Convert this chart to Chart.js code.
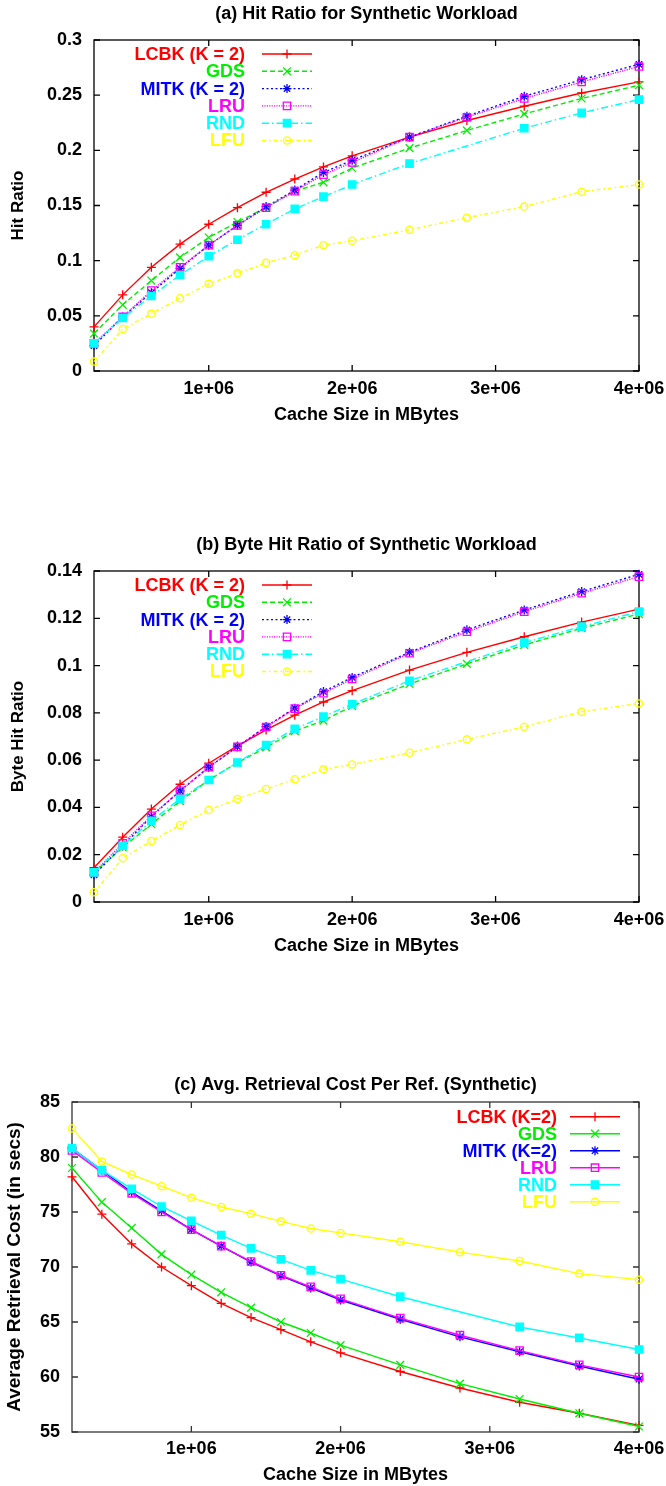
<!DOCTYPE html>
<html><head><meta charset="utf-8">
<script src="https://cdn.jsdelivr.net/npm/chart.js@4/dist/chart.umd.min.js"></script>
<style>
html,body{margin:0;padding:0;background:#fff;}
body{width:666px;height:1486px;position:relative;overflow:hidden;}
canvas{position:absolute;left:0;}
</style></head><body>
<canvas id="cA" width="666" height="440" style="top:0px;width:666px;height:440px"></canvas>
<canvas id="cB" width="666" height="440" style="top:531px;width:666px;height:440px"></canvas>
<canvas id="cC" width="666" height="415" style="top:1071px;width:666px;height:415px"></canvas>
<script>
// ---------- data ----------
const cacheSizes = [200000,400000,600000,800000,1000000,1200000,1400000,1600000,1800000,2000000,2400000,2800000,3200000,3600000,4000000];
const xTickValues = [1000000,2000000,3000000,4000000];
const xTickLabels = ['1e+06','2e+06','3e+06','4e+06'];

const policyLabelsAB = ['LCBK (K = 2)','GDS','MITK (K = 2)','LRU','RND','LFU'];
const policyLabelsC  = ['LCBK (K=2)','GDS','MITK (K=2)','LRU','RND','LFU'];

// (a) hit ratio
const hitLCBK = [0.040,0.069,0.094,0.115,0.133,0.148,0.162,0.174,0.185,0.195,0.212,0.227,0.240,0.252,0.262];
const hitGDS  = [0.034,0.060,0.082,0.103,0.121,0.135,0.148,0.163,0.171,0.184,0.202,0.218,0.233,0.247,0.259];
const hitMITK = [0.023,0.049,0.071,0.093,0.114,0.132,0.149,0.164,0.180,0.191,0.212,0.231,0.249,0.264,0.278];
const hitLRU  = [0.025,0.049,0.073,0.094,0.114,0.132,0.148,0.163,0.178,0.189,0.212,0.230,0.247,0.262,0.276];
const hitRND  = [0.025,0.048,0.068,0.087,0.104,0.119,0.133,0.147,0.158,0.169,0.188,null,0.220,0.234,0.246];
const hitLFU  = [0.0085,0.038,0.052,0.066,0.079,0.0885,0.098,0.105,0.114,0.118,0.128,0.139,0.149,0.1625,0.169];
const hitTicks = [0,0.05,0.1,0.15,0.2,0.25,0.3];
const hitTickLabels = ['0','0.05','0.1','0.15','0.2','0.25','0.3'];

// (b) byte hit ratio
const bhrLCBK = [0.0145,0.0274,0.0393,0.0498,0.0587,0.0660,0.0728,0.0790,0.0846,0.0894,0.0981,0.1056,0.1122,0.1184,0.1239];
const bhrGDS  = [0.0124,0.0231,0.0329,0.0427,0.0516,0.0589,0.0654,0.0723,0.0767,0.0829,0.0922,0.1007,0.1087,0.1158,0.1218];
const bhrMITK = [0.0115,0.0237,0.0361,0.0470,0.0570,0.0657,0.0742,0.0820,0.0890,0.0950,0.1056,0.1151,0.1235,0.1313,0.1386];
const bhrLRU  = [0.0125,0.0248,0.0365,0.0470,0.0570,0.0656,0.0740,0.0818,0.0883,0.0943,0.1052,0.1143,0.1228,0.1306,0.1376];
const bhrRND  = [0.0125,0.0238,0.0343,0.0436,0.0516,0.0590,0.0664,0.0732,0.0784,0.0837,0.0936,null,0.1097,0.1165,0.1228];
const bhrLFU  = [0.0041,0.0185,0.0258,0.0326,0.0389,0.0436,0.0478,0.0519,0.0561,0.0582,0.0631,0.0688,0.0741,0.0805,0.0840];
const bhrTicks = [0,0.02,0.04,0.06,0.08,0.1,0.12,0.14];
const bhrTickLabels = ['0','0.02','0.04','0.06','0.08','0.1','0.12','0.14'];

// (c) average retrieval cost
const costLCBK = [78.2,74.8,72.1,70.0,68.3,66.7,65.4,64.3,63.2,62.2,60.5,59.0,57.7,56.7,55.6];
const costGDS  = [79.0,75.9,73.55,71.15,69.3,67.7,66.3,65.0,64.0,62.9,61.1,59.4,58.0,56.7,55.5];
const costMITK = [80.8,78.8,76.8,75.1,73.4,71.9,70.45,69.2,68.1,67.0,65.25,63.65,62.3,61.0,59.8];
const costLRU  = [80.6,78.6,76.7,75.0,73.4,71.9,70.5,69.25,68.2,67.1,65.35,63.8,62.4,61.1,60.0];
const costRND  = [80.8,78.8,77.1,75.5,74.2,72.9,71.7,70.7,69.7,68.9,67.3,null,64.55,63.55,62.5];
const costLFU  = [82.6,79.6,78.4,77.35,76.3,75.45,74.85,74.15,73.5,73.1,72.3,71.35,70.55,69.4,68.85];
const costTicks = [55,60,65,70,75,80,85];
const costTickLabels = ['55','60','65','70','75','80','85'];

// ---------- styles ----------
const FONT = "'Liberation Sans', Arial, Helvetica, sans-serif";
const colors = ['#ff0000','#00ee00','#0000ff','#ff00ff','#00ffff','#ffff00'];
const markers = [
  {style:'cross', r:4.5, fill:false},
  {style:'crossRot', r:5.5, fill:false},
  {style:'star', r:4.5, fill:false},
  {style:'rect', r:5.2, fill:false},
  {style:'rect', r:5.2, fill:true},
  {style:'circle', r:3.6, fill:false}
];
const dashesAB = [[], [5,3], [2,2.5], [1.2,1.2], [7,3,1.5,3], [4,3,1.5,3]];

function toXY(arr){ return cacheSizes.map((x,i)=>({x:x, y:arr[i]})); }

function makeDatasets(series, labels, dashes){
  return series.map((s,i)=>({
    label: labels[i],
    data: toXY(s),
    borderColor: colors[i],
    backgroundColor: colors[i],
    borderWidth: 1.4,
    borderDash: dashes ? dashes[i] : [],
    pointStyle: markers[i].style,
    pointRadius: markers[i].r,
    pointBorderWidth: 1.3,
    pointBorderColor: colors[i],
    pointBackgroundColor: markers[i].fill ? colors[i] : 'rgba(0,0,0,0)',
    _fillMarker: markers[i].fill,
    tension: 0,
    spanGaps: true,
    clip: false,
    order: 5 - i
  }));
}

function drawMarker(ctx, style, x, y, r, fill, color, bw){
  ctx.save();
  ctx.setLineDash([]);
  ctx.strokeStyle = color; ctx.fillStyle = color; ctx.lineWidth = bw;
  ctx.beginPath();
  const d = r*Math.SQRT1_2;
  if (style === 'cross' || style === 'star'){
    ctx.moveTo(x-r,y); ctx.lineTo(x+r,y); ctx.moveTo(x,y-r); ctx.lineTo(x,y+r);
  }
  if (style === 'crossRot' || style === 'star'){
    ctx.moveTo(x-d,y-d); ctx.lineTo(x+d,y+d); ctx.moveTo(x-d,y+d); ctx.lineTo(x+d,y-d);
  }
  if (style === 'rect'){
    ctx.rect(x-d,y-d,2*d,2*d);
    if (fill) ctx.fill();
  }
  if (style === 'circle'){
    ctx.arc(x,y,r,0,Math.PI*2);
    if (fill) ctx.fill();
  }
  ctx.stroke();
  ctx.restore();
}

const gpFrame = {
  id: 'gpFrame',
  beforeDatasetsDraw(chart, args, opts){
    const {ctx, chartArea: a} = chart;
    const xs = chart.scales.x, ys = chart.scales.y;
    const L = 6;
    ctx.save();
    ctx.strokeStyle = opts.color || '#000';
    ctx.lineWidth = opts.width || 1.3;
    ctx.beginPath();
    xs.ticks.forEach(t=>{
      const px = xs.getPixelForValue(t.value);
      ctx.moveTo(px, a.bottom); ctx.lineTo(px, a.bottom-L);
      ctx.moveTo(px, a.top); ctx.lineTo(px, a.top+L);
    });
    ys.ticks.forEach(t=>{
      const py = ys.getPixelForValue(t.value);
      ctx.moveTo(a.left, py); ctx.lineTo(a.left+L, py);
      ctx.moveTo(a.right, py); ctx.lineTo(a.right-L, py);
    });
    ctx.stroke();
    ctx.strokeRect(a.left, a.top, a.right-a.left, a.bottom-a.top);
    ctx.restore();
  }
};

const gpLegend = {
  id: 'gpLegend',
  afterDraw(chart, args, opts){
    const ctx = chart.ctx;
    ctx.save();
    ctx.font = 'bold ' + opts.size + 'px ' + FONT;
    ctx.textAlign = 'right';
    ctx.textBaseline = 'middle';
    chart.data.datasets.forEach((ds,i)=>{
      const y = opts.y + i*opts.dy;
      ctx.fillStyle = ds.borderColor;
      ctx.fillText(ds.label, opts.x, y + 1);
      ctx.strokeStyle = ds.borderColor;
      ctx.lineWidth = ds.borderWidth;
      ctx.setLineDash(ds.borderDash || []);
      ctx.beginPath(); ctx.moveTo(opts.x0, y); ctx.lineTo(opts.x1, y); ctx.stroke();
      ctx.setLineDash([]);
      drawMarker(ctx, ds.pointStyle, (opts.x0+opts.x1)/2, y, ds.pointRadius, ds._fillMarker, ds.borderColor, ds.pointBorderWidth);
    });
    ctx.restore();
  }
};

function makeChart(id, cfg){
  const xTickFont = {family: FONT, size: 18, weight: 'bold', lineHeight: cfg.xTickLH};
  const yTickFont = {family: FONT, size: 18, weight: 'bold', lineHeight: 1.2};
  return new Chart(document.getElementById(id), {
    type: 'line',
    data: {datasets: makeDatasets(cfg.series, cfg.labels, cfg.dashes)},
    options: {
      responsive: false,
      animation: false,
      devicePixelRatio: 1,
      events: [],
      layout: {padding: {left: 0, right: 27, top: 0, bottom: 0}},
      scales: {
        x: {
          type: 'linear', min: 200000, max: 4000000,
          afterBuildTicks: s => { s.ticks = xTickValues.map(v=>({value:v})); },
          afterFit: s => { s.height = cfg.xAxisHeight; },
          grid: {display: false, drawTicks: false},
          border: {display: false},
          ticks: {padding: 1, color: '#000', font: xTickFont, maxRotation: 0, autoSkip: false,
                  callback: (v, i) => xTickLabels[i]},
          title: {display: true, text: 'Cache Size in MBytes', color: '#000',
                  font: {family: FONT, size: 18, weight: 'bold', lineHeight: 1.2}, padding: {top: 0, bottom: cfg.xTitlePad}}
        },
        y: {
          type: 'linear', min: cfg.yTicks[0], max: cfg.yTicks[cfg.yTicks.length-1],
          afterBuildTicks: s => { s.ticks = cfg.yTicks.map(v=>({value:v})); },
          afterFit: s => { s.width = cfg.yAxisWidth; },
          grid: {display: false, drawTicks: false},
          border: {display: false},
          ticks: {padding: 12, color: '#000', font: yTickFont, autoSkip: false,
                  callback: (v, i) => cfg.yTickLabels[i]},
          title: {display: true, text: cfg.yTitle, color: '#000',
                  font: {family: FONT, size: cfg.yTitleSize, weight: 'bold', lineHeight: 1.2}, padding: {top: cfg.yTitlePad, bottom: 0}}
        }
      },
      plugins: {
        legend: {display: false},
        tooltip: {enabled: false},
        title: {display: true, fullSize: false, text: cfg.title, color: '#000',
                font: {family: FONT, size: 18, weight: 'bold', lineHeight: 1.2},
                padding: {top: cfg.titlePadTop, bottom: cfg.titlePadBottom}},
        gpFrame: {color: cfg.frameColor || '#000', width: 1.3},
        gpLegend: cfg.legend
      }
    },
    plugins: [gpFrame, gpLegend]
  });
}

makeChart('cA', {
  series: [hitLCBK, hitGDS, hitMITK, hitLRU, hitRND, hitLFU],
  labels: policyLabelsAB, dashes: dashesAB,
  yTicks: hitTicks, yTickLabels: hitTickLabels, yTitle: 'Hit Ratio', yTitleSize: 17,
  title: '(a) Hit Ratio for Synthetic Workload',
  titlePadTop: 3.2, titlePadBottom: 15.2,
  xAxisHeight: 69, yAxisWidth: 94, xTickLH: 1.86, xTitlePad: 14.2, yTitlePad: 8,
  legend: {size: 18, x: 245, y: 54, dy: 17.3, x0: 262, x1: 312}
});

makeChart('cB', {
  series: [bhrLCBK, bhrGDS, bhrMITK, bhrLRU, bhrRND, bhrLFU],
  labels: policyLabelsAB, dashes: dashesAB,
  yTicks: bhrTicks, yTickLabels: bhrTickLabels, yTitle: 'Byte Hit Ratio', yTitleSize: 17,
  title: '(b) Byte Hit Ratio of Synthetic Workload',
  titlePadTop: 3.2, titlePadBottom: 15.2,
  xAxisHeight: 69, yAxisWidth: 94, xTickLH: 1.86, xTitlePad: 14.2, yTitlePad: 8,
  legend: {size: 18, x: 245, y: 54, dy: 17.3, x0: 262, x1: 312}
});

makeChart('cC', {
  series: [costLCBK, costGDS, costMITK, costLRU, costRND, costLFU],
  labels: policyLabelsC, dashes: null,
  yTicks: costTicks, yTickLabels: costTickLabels, yTitle: 'Average Retrieval Cost (in secs)', yTitleSize: 19,
  title: '(c) Avg. Retrieval Cost Per Ref. (Synthetic)',
  titlePadTop: 3.2, titlePadBottom: 6.2,
  xAxisHeight: 54, yAxisWidth: 72, xTickLH: 1.78, xTitlePad: 0.5, yTitlePad: 3,
  frameColor: '#333',
  legend: {size: 18, x: 557, y: 45.7, dy: 17, x0: 570, x1: 620}
});
</script>
</body></html>
